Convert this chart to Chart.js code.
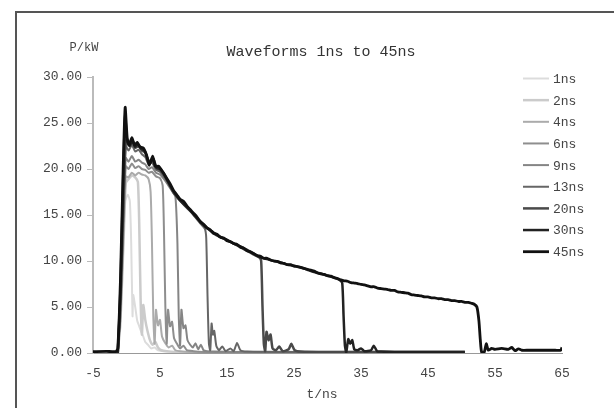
<!DOCTYPE html>
<html>
<head>
<meta charset="utf-8">
<script src="https://cdn.jsdelivr.net/npm/chart.js@4/dist/chart.umd.min.js"></script>
<style>
html,body{margin:0;padding:0;background:#fff;}
#wrap{position:relative;width:614px;height:408px;overflow:hidden;}
#frame{position:absolute;left:15px;top:11px;width:700px;height:500px;border-top:2px solid #555;border-left:2px solid #555;pointer-events:none;}
canvas{position:absolute;left:0;top:0;}
</style>
</head>
<body>
<div id="wrap"><canvas id="c" width="614" height="408"></canvas><div id="frame"></div></div>
<script>
// ---- data ----
const chartTitle = "Waveforms 1ns to 45ns";
const yTitle = "P/kW";
const xTitle = "t/ns";
const xTicks = [-5, 5, 15, 25, 35, 45, 55, 65];
const yTicks = [0, 5, 10, 15, 20, 25, 30];
const seriesLabels = ["1ns","2ns","4ns","6ns","9ns","13ns","20ns","30ns","45ns"];

const s1ns = [[-1.3,0],[-0.9,3],[-0.5,11],[-0.2,16.5],[0.2,17.2],[0.5,16.5],[0.7,12],[0.9,4],[1.0,6.3],[1.3,5.0],[1.6,3.5],[1.9,2.9],[2.2,2.3],[2.5,1.8],[2.8,1.2],[3.2,0.9],[3.7,0.5],[4.2,0.6],[4.7,0.3],[5.5,0.2],[8,0.1],[20,0.1],[50.5,0.1]];
const s2ns = [[-1.3,0],[-0.9,3.5],[-0.4,13],[-0.1,18.5],[0.3,18.9],[0.8,19.3],[1.3,19.1],[1.7,18.6],[1.9,14],[2.1,6],[2.3,2.0],[2.5,5.2],[2.8,3.6],[3.1,2.5],[3.5,1.4],[3.9,0.9],[4.3,1.2],[4.7,0.6],[5.2,0.3],[6,0.2],[8,0.1],[20,0.1],[50.5,0.1]];
const s4ns = [[-1.3,0],[-0.9,4],[-0.4,14],[-0.1,19.2],[0.3,19.1],[0.8,19.6],[1.3,19.3],[1.8,19.6],[2.3,19.4],[2.8,19.3],[3.3,18.9],[3.6,17.5],[3.8,12],[4.0,4],[4.2,1.0],[4.4,4.7],[4.7,3.0],[5.0,3.6],[5.3,1.8],[5.8,1.05],[6.3,0.6],[6.8,0.8],[7.3,0.3],[8,0.2],[10,0.1],[20,0.1],[50.5,0.1]];
const s6ns = [[-1.3,0],[-0.9,4],[-0.4,15],[-0.1,20.3],[0.3,20.0],[0.8,20.6],[1.3,20.1],[1.8,20.3],[2.3,20.0],[2.8,19.9],[3.3,19.6],[3.8,19.7],[4.4,19.2],[5,19.0],[5.4,18.2],[5.6,13],[5.8,5],[6.0,1.0],[6.2,4.7],[6.5,2.9],[6.8,3.4],[7.1,1.6],[7.5,1.05],[8,0.5],[8.5,0.8],[9,0.3],[10,0.2],[12,0.1],[20,0.1],[50.5,0.1]];
const s9ns = [[-1.3,0],[-0.9,4.5],[-0.4,16],[-0.1,21.2],[0.3,20.8],[0.8,21.4],[1.3,20.8],[1.8,21.0],[2.3,20.7],[2.8,20.5],[3.3,20.0],[3.8,20.2],[4.4,19.6],[5,19.4],[6,18.5],[6.8,17.6],[7.3,17.0],[7.6,12],[7.8,4],[8.0,0.8],[8.2,4.7],[8.5,2.7],[8.8,3.0],[9.1,1.4],[9.5,0.9],[9.9,0.6],[10.3,1.05],[10.7,0.4],[11.1,0.9],[11.5,0.3],[12,0.2],[13,0.15],[20,0.1],[30,0.1],[40,0.1],[50.5,0.1]];
const s13ns = [[-1.3,0],[-0.9,5],[-0.4,17],[-0.1,22.5],[0.3,22.0],[0.8,22.6],[1.3,21.9],[1.8,22.1],[2.3,21.6],[2.8,21.3],[3.3,20.5],[3.8,20.7],[4.4,19.9],[5,19.7],[6,18.7],[7,17.4],[8,16.5],[9,15.8],[10,15.0],[11,14.1],[11.7,13.5],[11.9,12.5],[12.1,6],[12.3,1],[12.5,0.3],[12.7,3.2],[12.9,2.0],[13.1,2.4],[13.4,0.8],[13.8,0.3],[14.3,0.7],[14.8,0.2],[15.5,0.5],[16,0.2],[16.5,1.1],[17,0.3],[18,0.15],[25,0.1],[35,0.1],[50.5,0.1]];
const s20ns = [[-1.3,0],[-0.9,6],[-0.4,18],[-0.1,23.2],[0.3,22.6],[0.8,23.0],[1.3,22.3],[1.8,22.5],[2.3,22.0],[2.8,21.8],[3.3,20.8],[3.8,21.0],[4.4,20.2],[5,19.9],[6,18.9],[7,17.5],[8,16.6],[9,15.8],[10,15.1],[11,14.2],[12,13.6],[13,13.0],[14,12.6],[15,12.3],[16,11.9],[17,11.5],[18,11.1],[19,10.7],[19.8,10.4],[20.1,10.0],[20.3,5],[20.5,1.0],[20.7,0.2],[20.9,2.3],[21.2,1.4],[21.5,2.0],[21.8,0.5],[22.3,0.3],[22.8,0.7],[23.3,0.2],[24.2,0.4],[24.6,1.0],[25.1,0.3],[26,0.15],[30,0.1],[40,0.1],[50.5,0.1]];
const s30ns = [[-1.3,0],[-0.9,7],[-0.5,19],[-0.2,25.8],[0.1,23.0],[0.5,22.5],[0.9,23.1],[1.3,22.4],[1.7,22.7],[2.2,22.2],[2.7,22.0],[3.1,21.2],[3.5,20.6],[4,21.1],[4.5,20.1],[5,20.0],[5.5,19.6],[6,18.9],[7,17.6],[8,16.6],[9,15.9],[10,15.1],[11,14.3],[12,13.6],[13,13.1],[14,12.6],[15,12.3],[16,11.9],[17,11.6],[18,11.2],[19,10.8],[20,10.4],[21,10.2],[22,10.0],[23,9.85],[24,9.6],[25,9.5],[26,9.3],[27,9.05],[28,8.8],[29,8.65],[30,8.4],[31,8.2],[31.8,7.95],[32.2,7.6],[32.4,4],[32.6,0.8],[32.8,0.1],[33.1,1.5],[33.4,1.0],[33.7,1.4],[34,0.4],[34.5,0.3],[35,0.5],[35.5,0.2],[36.5,0.3],[36.9,0.8],[37.4,0.2],[38,0.15],[40,0.1],[45,0.12],[50.5,0.1]];
const s45ns = [[-5,0.15],[-3,0.18],[-1.6,0.15],[-1.3,0.5],[-0.9,8],[-0.5,20],[-0.2,26.7],[0.1,23.4],[0.4,22.6],[0.8,23.4],[1.2,22.6],[1.6,22.9],[2,22.4],[2.5,22.3],[3,21.5],[3.4,20.4],[3.9,21.4],[4.3,20.3],[4.8,20.3],[5.3,19.8],[6,19.0],[6.5,18.4],[7,17.7],[7.5,17.2],[8,16.7],[8.5,16.5],[9,16.0],[9.5,15.6],[10,15.2],[10.5,14.8],[11,14.3],[11.5,14.0],[12,13.6],[12.5,13.4],[13,13.0],[13.5,12.9],[14,12.6],[14.5,12.5],[15,12.2],[15.5,12.1],[16,11.9],[16.5,11.8],[17,11.5],[17.5,11.4],[18,11.1],[18.5,11.0],[19,10.8],[19.5,10.6],[20,10.5],[20.5,10.3],[21,10.3],[21.5,10.1],[22,10.0],[22.5,9.95],[23,9.8],[23.5,9.75],[24,9.6],[24.5,9.6],[25,9.45],[25.5,9.4],[26,9.3],[26.5,9.2],[27,9.1],[27.5,9.0],[28,8.9],[28.5,8.7],[29,8.6],[29.5,8.55],[30,8.4],[30.5,8.35],[31,8.2],[31.5,8.1],[32,7.95],[32.5,7.85],[33,7.8],[33.5,7.65],[34,7.6],[34.5,7.55],[35,7.45],[35.5,7.4],[36,7.3],[36.5,7.2],[37,7.2],[37.5,7.05],[38,7.0],[38.5,6.95],[39,6.9],[39.5,6.8],[40,6.8],[40.5,6.65],[41,6.6],[41.5,6.55],[42,6.5],[42.5,6.35],[43,6.3],[43.5,6.25],[44,6.2],[44.5,6.1],[45,6.1],[45.5,6.0],[46,6.0],[46.5,5.9],[47,5.9],[47.5,5.8],[48,5.8],[48.5,5.7],[49,5.7],[49.5,5.6],[50,5.6],[50.5,5.5],[51,5.5],[51.5,5.4],[51.9,5.3],[52.3,5.0],[52.6,3.5],[52.8,1.5],[53,0.1],[53.4,0.1],[53.7,1.0],[54,0.3],[54.5,0.5],[55,0.4],[56,0.5],[57,0.4],[57.5,0.6],[58,0.25],[58.5,0.45],[59,0.3],[60,0.3],[62,0.3],[64,0.3],[64.8,0.3],[65,0.6]];

const seriesData = [s1ns, s2ns, s4ns, s6ns, s9ns, s13ns, s20ns, s30ns, s45ns];
const seriesColors = ["#dcdcdc","#cbcbcb","#ababab","#8e8e8e","#858585","#666666","#4a4a4a","#222222","#111111"];
const seriesWidths = [2, 2.5, 2, 2, 2, 2, 2.5, 2.5, 2.8];

// ---- chart ----
const FONT = "'Liberation Mono', 'DejaVu Sans Mono', monospace";

const datasets = seriesData.map((s, i) => ({
  label: seriesLabels[i],
  data: s.map(p => ({x: p[0], y: p[1]})),
  borderColor: seriesColors[i],
  backgroundColor: seriesColors[i],
  borderWidth: seriesWidths[i],
  pointRadius: 0,
  tension: 0.2,
  fill: false,
  order: seriesData.length - i
}));

const decor = {
  id: 'decor',
  afterDraw(chart) {
    const ctx = chart.ctx;
    ctx.save();
    ctx.fillStyle = '#333';
    ctx.font = "15px " + FONT;
    ctx.textAlign = 'center';
    ctx.textBaseline = 'middle';
    ctx.fillText(chartTitle, 321, 52);
    ctx.font = "12px " + FONT;
    ctx.fillStyle = '#444';
    ctx.fillText(yTitle, 84, 48);
    ctx.font = "13px " + FONT;
    ctx.fillText(xTitle, 322, 395);
    // legend
    const rowY0 = 78.5, rowStep = 21.65;
    chart.data.datasets.forEach((ds, i) => {
      const y = rowY0 + i * rowStep;
      ctx.strokeStyle = ds.borderColor;
      ctx.lineWidth = ds.borderWidth;
      ctx.beginPath();
      ctx.moveTo(523, y);
      ctx.lineTo(549, y);
      ctx.stroke();
      ctx.fillStyle = '#444';
      ctx.font = "13px " + FONT;
      ctx.textAlign = 'left';
      ctx.fillText(ds.label, 553, y + 1);
    });
    ctx.restore();
  }
};

new Chart(document.getElementById('c'), {
  type: 'line',
  data: { datasets },
  options: {
    responsive: false,
    animation: false,
    layout: { padding: { left: 0, right: 52, top: 77, bottom: 0 } },
    plugins: { legend: { display: false }, title: { display: false }, tooltip: { enabled: false } },
    scales: {
      x: {
        type: 'linear', min: -5, max: 65,
        afterFit(axis) { axis.height = 55; },
        afterBuildTicks(axis) { axis.ticks = xTicks.map(v => ({ value: v })); },
        grid: { display: false },
        border: { display: true, color: '#999', width: 1 },
        ticks: { color: '#444', font: { family: FONT, size: 13 }, padding: 5, maxRotation: 0,
                 callback: v => String(v) }
      },
      y: {
        min: 0, max: 30,
        afterFit(axis) { axis.width = 93; },
        afterBuildTicks(axis) { axis.ticks = yTicks.map(v => ({ value: v })); },
        grid: { drawOnChartArea: false, drawTicks: true, tickLength: 6, color: '#bbb' },
        border: { display: true, color: '#bbb', width: 2 },
        ticks: { color: '#444', font: { family: FONT, size: 13 }, padding: 5,
                 callback: v => Number(v).toFixed(2) }
      }
    }
  },
  plugins: [decor]
});
</script>
</body>
</html>
